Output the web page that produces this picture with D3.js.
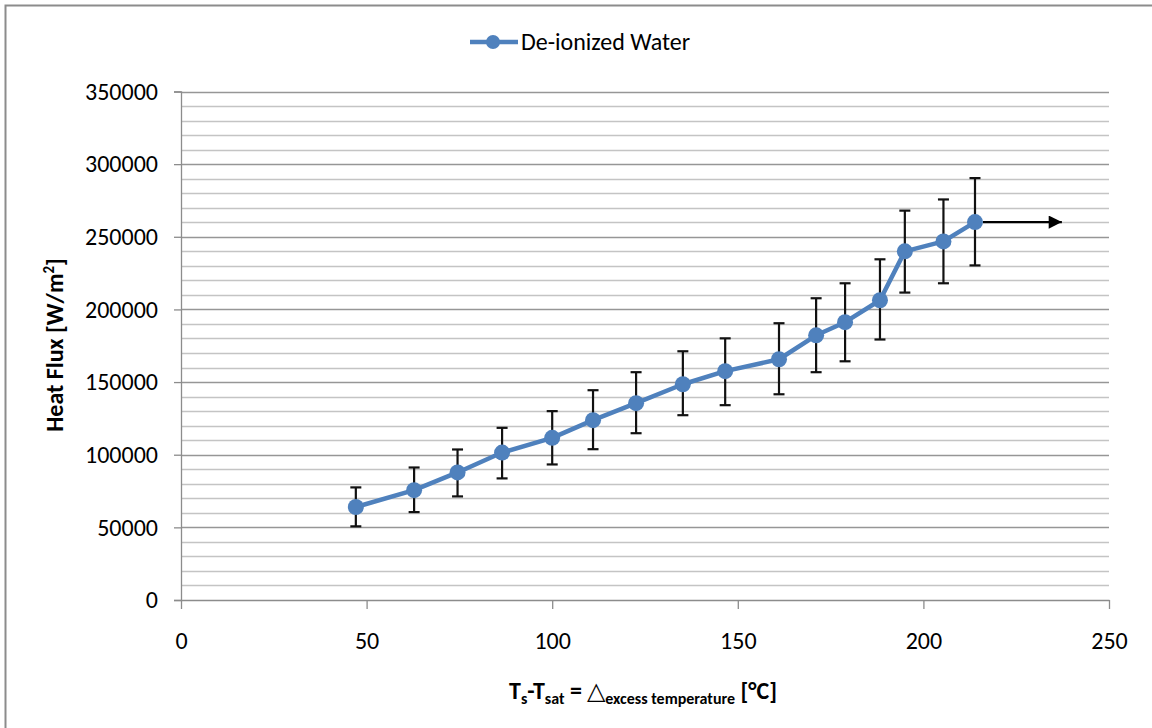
<!DOCTYPE html>
<html>
<head>
<meta charset="utf-8">
<script src="https://cdn.jsdelivr.net/npm/d3@7"></script>
<style>
  html, body { margin: 0; padding: 0; background: #fff; }
  svg { display: block; }
  text { font-family: Carlito, "Open Sans", "Noto Sans", sans-serif; fill: #000; }
</style>
</head>
<body>
<svg id="chart" width="1152" height="728"></svg>
<script>
// Excess temperature (°C) and measured heat flux (W/m²) for de-ionized water
const seriesName = "De-ionized Water";
const excessTemp = [47.1, 62.8, 74.5, 86.5, 100.0, 111.0, 122.6, 135.2, 146.6, 161.1, 171.1, 178.9, 188.3, 195.0, 205.4, 213.9];
const heatFlux   = [64000, 75600, 87800, 101500, 111600, 123800, 135500, 148500, 157500, 165700, 182200, 191200, 206300, 240000, 246800, 260100];
const fluxHigh   = [77500, 91200, 103600, 118500, 130000, 144400, 156800, 171200, 180100, 190500, 207700, 218000, 234500, 268000, 275700, 290400];
const fluxLow    = [50700, 60500, 71300, 83700, 93300, 103800, 114800, 127200, 134100, 141600, 156800, 164300, 179300, 211600, 218000, 230300];
const arrowEndTemp = 237.3;

const xTicks = [0, 50, 100, 150, 200, 250];
const yTicks = [0, 50000, 100000, 150000, 200000, 250000, 300000, 350000];
const yMinorTicks = d3.range(0, 350001, 10000);

(function draw() {
  const svg = d3.select("#chart");
  const plotLeft = 181, plotRight = 1109, plotTop = 91.5, plotBottom = 600;
  const font = 'Carlito, "Open Sans", "Noto Sans", sans-serif';
  const fs = 24;

  const x = d3.scaleLinear().domain([0, 250]).range([plotLeft, plotRight]);
  const y = d3.scaleLinear().domain([0, 350000]).range([plotBottom, plotTop]);

  // Outer frame of the chart area
  svg.append("rect")
    .attr("x", 5.5).attr("y", 5.5).attr("width", 1200).attr("height", 800)
    .attr("fill", "none").attr("stroke", "#8c8c8c").attr("stroke-width", 2);

  // Minor gridlines
  svg.append("g").selectAll("line")
    .data(yMinorTicks.filter(v => v % 50000 !== 0))
    .join("line")
    .attr("x1", plotLeft).attr("x2", plotRight)
    .attr("y1", d => Math.round(y(d)) + 0.5).attr("y2", d => Math.round(y(d)) + 0.5)
    .attr("stroke", "#c4c4c4").attr("stroke-width", 1.3);

  // Major gridlines
  svg.append("g").selectAll("line")
    .data(yTicks.filter(v => v > 0))
    .join("line")
    .attr("x1", plotLeft).attr("x2", plotRight)
    .attr("y1", d => Math.round(y(d)) + 0.5).attr("y2", d => Math.round(y(d)) + 0.5)
    .attr("stroke", "#969696").attr("stroke-width", 1.3);

  // Y axis
  const yAxis = d3.axisLeft(y).tickValues(yTicks).tickSize(7).tickPadding(16).tickFormat(d3.format("d"));
  const gy = svg.append("g").attr("transform", `translate(${plotLeft},0)`).call(yAxis);
  gy.select(".domain").attr("stroke", "#8c8c8c").attr("stroke-width", 1.3);
  gy.selectAll(".tick line").attr("stroke", "#8c8c8c").attr("stroke-width", 1.3);
  gy.selectAll(".tick text").attr("font-size", fs).attr("fill", "#1a1a1a").style("font-family", font);

  // X axis
  const xAxis = d3.axisBottom(x).tickValues(xTicks).tickSize(9).tickPadding(23).tickSizeOuter(0);
  const gx = svg.append("g").attr("transform", `translate(0,${plotBottom})`).call(xAxis);
  gx.select(".domain").attr("stroke", "#8c8c8c").attr("stroke-width", 1.3);
  gx.selectAll(".tick line").attr("stroke", "#8c8c8c").attr("stroke-width", 1.3);
  gx.selectAll(".tick text").attr("font-size", fs).attr("fill", "#1a1a1a").style("font-family", font);

  // Error bars
  const err = svg.append("g").attr("stroke", "#111").attr("stroke-width", 2.2).attr("fill", "none");
  excessTemp.forEach((t, i) => {
    const cx = x(t);
    err.append("line").attr("x1", cx).attr("x2", cx).attr("y1", y(fluxHigh[i])).attr("y2", y(fluxLow[i]));
    err.append("line").attr("x1", cx - 5.5).attr("x2", cx + 5.5).attr("y1", y(fluxHigh[i])).attr("y2", y(fluxHigh[i]));
    err.append("line").attr("x1", cx - 5.5).attr("x2", cx + 5.5).attr("y1", y(fluxLow[i])).attr("y2", y(fluxLow[i]));
  });

  // Series line and markers
  const blue = "#4f81bd";
  const pts = excessTemp.map((t, i) => [t, heatFlux[i]]);
  svg.append("path")
    .datum(pts)
    .attr("fill", "none").attr("stroke", blue).attr("stroke-width", 4.5)
    .attr("stroke-linejoin", "round")
    .attr("d", d3.line().x(d => x(d[0])).y(d => y(d[1])));

  svg.append("g").selectAll("circle")
    .data(pts)
    .join("circle")
    .attr("cx", d => x(d[0])).attr("cy", d => y(d[1])).attr("r", 8)
    .attr("fill", blue);

  // Arrow from the last point
  svg.append("defs").append("marker")
    .attr("id", "arrowhead")
    .attr("viewBox", "0 0 10 10").attr("refX", 10).attr("refY", 5)
    .attr("markerWidth", 7).attr("markerHeight", 6).attr("markerUnits", "strokeWidth")
    .attr("orient", "auto")
    .append("path").attr("d", "M0,0 L10,5 L0,10 Z").attr("fill", "#000");

  const last = pts[pts.length - 1];
  svg.append("line")
    .attr("x1", x(last[0]) + 8).attr("x2", x(arrowEndTemp))
    .attr("y1", y(last[1])).attr("y2", y(last[1]))
    .attr("stroke", "#000").attr("stroke-width", 2.2)
    .attr("marker-end", "url(#arrowhead)");

  // Legend
  const lg = svg.append("g").attr("transform", "translate(470,42)");
  lg.append("line").attr("x1", 0).attr("x2", 48).attr("y1", 0).attr("y2", 0)
    .attr("stroke", blue).attr("stroke-width", 4.5);
  lg.append("circle").attr("cx", 23).attr("cy", 0).attr("r", 7).attr("fill", blue);
  lg.append("text").attr("x", 51).attr("y", 8).attr("font-size", fs).attr("fill", "#1a1a1a").text(seriesName);

  // Y axis title
  svg.append("text")
    .attr("transform", "translate(63,345) rotate(-90)")
    .attr("text-anchor", "middle").attr("font-size", fs).attr("font-weight", "bold")
    .call(t => {
      t.append("tspan").text("Heat Flux [W/m");
      t.append("tspan").attr("font-size", 15).attr("dy", -9).text("2");
      t.append("tspan").attr("dy", 9).text("]");
    });

  // X axis title
  svg.append("text")
    .attr("x", 643).attr("y", 699)
    .attr("text-anchor", "middle").attr("font-size", fs).attr("font-weight", "bold")
    .call(t => {
      t.append("tspan").text("T");
      t.append("tspan").attr("font-size", 16).attr("dy", 5).text("s");
      t.append("tspan").attr("dy", -5).text("-T");
      t.append("tspan").attr("font-size", 16).attr("dy", 5).text("sat");
      t.append("tspan").attr("dy", -5).text(" = ");
      t.append("tspan").attr("font-weight", "normal").text("△");
      t.append("tspan").attr("font-size", 16).attr("dy", 5).text("excess temperature");
      t.append("tspan").attr("dy", -5).text(" [°C]");
    });
})();
</script>
</body>
</html>
